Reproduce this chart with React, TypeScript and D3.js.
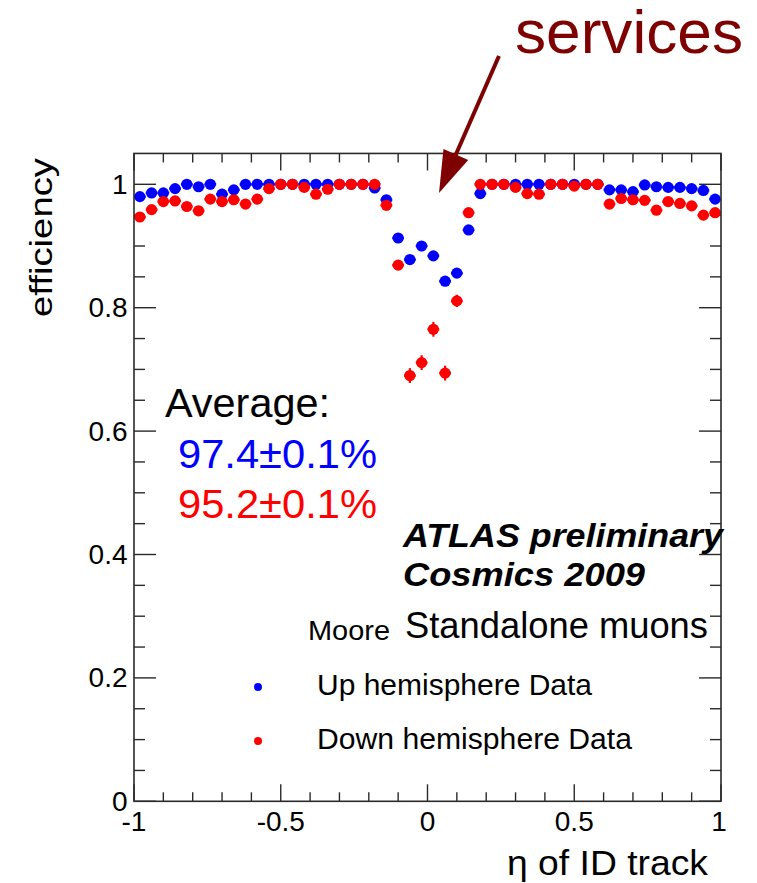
import React from "react";
import * as d3 from "d3";

const etaBins = [
  -0.98, -0.94, -0.9, -0.86, -0.82, -0.78, -0.74, -0.7, -0.66, -0.62,
  -0.58, -0.54, -0.5, -0.46, -0.42, -0.38, -0.34, -0.3, -0.26, -0.22,
  -0.18, -0.14, -0.1, -0.06, -0.02, 0.02, 0.06, 0.1, 0.14, 0.18,
  0.22, 0.26, 0.3, 0.34, 0.38, 0.42, 0.46, 0.5, 0.54, 0.58,
  0.62, 0.66, 0.7, 0.74, 0.78, 0.82, 0.86, 0.9, 0.94, 0.98,
];

const upEff = [
  0.98, 0.986, 0.986, 0.993, 1.0, 0.996, 1.0, 0.984, 0.991, 1.0,
  1.0, 1.0, 1.0, 1.0, 1.0, 1.0, 1.0, 1.0, 1.0, 1.0,
  0.994, 0.975, 0.913, 0.878, 0.9, 0.884, 0.843, 0.856, 0.926, 0.985,
  1.0, 1.0, 1.0, 1.0, 1.0, 1.0, 1.0, 1.0, 1.0, 1.0,
  0.991, 0.991, 0.988, 0.999, 0.996, 0.995, 0.995, 0.993, 0.99, 0.976,
];

const downEff = [
  0.947, 0.959, 0.972, 0.973, 0.964, 0.957, 0.976, 0.972, 0.975, 0.968,
  0.976, 0.993, 1.0, 1.0, 0.995, 0.984, 0.992, 1.0, 1.0, 1.0,
  1.0, 0.966, 0.869, 0.69, 0.711, 0.765, 0.694, 0.811, 0.954, 1.0,
  1.0, 1.0, 0.995, 0.985, 0.984, 1.0, 1.0, 0.997, 1.0, 1.0,
  0.968, 0.977, 0.975, 0.974, 0.958, 0.972, 0.969, 0.965, 0.95, 0.954,
];

const downErr = [
  0.006, 0.006, 0.005, 0.005, 0.006, 0.006, 0.005, 0.005, 0.005, 0.006,
  0.005, 0.003, 0.002, 0.002, 0.003, 0.004, 0.003, 0.002, 0.002, 0.002,
  0.002, 0.006, 0.008, 0.012, 0.012, 0.012, 0.012, 0.01, 0.006, 0.002,
  0.002, 0.002, 0.003, 0.004, 0.004, 0.002, 0.002, 0.002, 0.002, 0.002,
  0.006, 0.005, 0.005, 0.005, 0.006, 0.005, 0.005, 0.006, 0.006, 0.006,
];

const binHalfWidth = 0.02;
const xMajorTicks = [-1, -0.5, 0, 0.5, 1];
const xTickLabels = ["-1", "-0.5", "0", "0.5", "1"];
const xMinorTicks = [-0.9, -0.8, -0.7, -0.6, -0.4, -0.3, -0.2, -0.1, 0.1, 0.2, 0.3, 0.4, 0.6, 0.7, 0.8, 0.9];
const yMajorTicks = [0, 0.2, 0.4, 0.6, 0.8, 1];
const yTickLabels = ["0", "0.2", "0.4", "0.6", "0.8", "1"];
const yMinorTicks = [0.05, 0.1, 0.15, 0.25, 0.3, 0.35, 0.45, 0.5, 0.55, 0.65, 0.7, 0.75, 0.85, 0.9, 0.95];

const FONT = "'Liberation Sans', Arial, Helvetica, sans-serif";
const BLUE = "#0000ff";
const RED = "#ff0000";
const DARKRED = "#7f0000";

export default function App() {
  const W = 757;
  const H = 883;
  const x = d3.scaleLinear().domain([-1, 1]).range([134, 721]);
  const y = d3.scaleLinear().domain([0, 1.05]).range([801.3, 153.45]);
  const [x0, x1] = x.range();
  const [y0, y1] = y.range();
  const frame = "#2a2a2a";

  // arrow geometry
  const aStart: [number, number] = [499, 56];
  const aTip: [number, number] = [439, 193];
  const dx = aTip[0] - aStart[0];
  const dy = aTip[1] - aStart[1];
  const len = Math.hypot(dx, dy);
  const ux = dx / len, uy = dy / len;
  const headLen = 42, headHalf = 13.5;
  const bx = aTip[0] - ux * headLen, by = aTip[1] - uy * headLen;
  const px = -uy, py = ux;
  const headPts = [
    [aTip[0], aTip[1]],
    [bx + px * headHalf, by + py * headHalf],
    [bx - px * headHalf, by - py * headHalf],
  ].map((p) => p.join(",")).join(" ");

  const fit = { lengthAdjust: "spacingAndGlyphs" as const };

  return (
    <svg width={W} height={H} style={{ position: "absolute", left: 0, top: 0, background: "#fff" }} fontFamily={FONT}>
      <rect x={0} y={0} width={W} height={H} fill="#fff" />

      {/* ticks */}
      <g stroke={frame} strokeWidth={1.4}>
        {xMajorTicks.map((t) => (
          <g key={"xm" + t}>
            <line x1={x(t)} x2={x(t)} y1={y0} y2={y0 - 17} />
            <line x1={x(t)} x2={x(t)} y1={y1} y2={y1 + 17} />
          </g>
        ))}
        {xMinorTicks.map((t) => (
          <g key={"xn" + t}>
            <line x1={x(t)} x2={x(t)} y1={y0} y2={y0 - 9} />
            <line x1={x(t)} x2={x(t)} y1={y1} y2={y1 + 9} />
          </g>
        ))}
        {yMajorTicks.map((t) => (
          <g key={"ym" + t}>
            <line x1={x0} x2={x0 + 22} y1={y(t)} y2={y(t)} />
            <line x1={x1} x2={x1 - 22} y1={y(t)} y2={y(t)} />
          </g>
        ))}
        {yMinorTicks.map((t) => (
          <g key={"yn" + t}>
            <line x1={x0} x2={x0 + 11} y1={y(t)} y2={y(t)} />
            <line x1={x1} x2={x1 - 11} y1={y(t)} y2={y(t)} />
          </g>
        ))}
      </g>

      {/* data: up hemisphere */}
      <g>
        {etaBins.map((e, i) => (
          <g key={"u" + i}>
            <line x1={x(e - binHalfWidth)} x2={x(e + binHalfWidth)} y1={y(upEff[i])} y2={y(upEff[i])} stroke={BLUE} strokeWidth={2.5} />
            <circle cx={x(e)} cy={y(upEff[i])} r={5.6} fill={BLUE} />
          </g>
        ))}
      </g>
      {/* data: down hemisphere */}
      <g>
        {etaBins.map((e, i) => (
          <g key={"d" + i}>
            <line x1={x(e - binHalfWidth)} x2={x(e + binHalfWidth)} y1={y(downEff[i])} y2={y(downEff[i])} stroke={RED} strokeWidth={2.5} />
            <line x1={x(e)} x2={x(e)} y1={y(Math.min(1, downEff[i] + downErr[i]))} y2={y(downEff[i] - downErr[i])} stroke={RED} strokeWidth={2.2} />
            <circle cx={x(e)} cy={y(downEff[i])} r={5.6} fill={RED} />
          </g>
        ))}
      </g>

      {/* frame */}
      <rect x={x0} y={y1} width={x1 - x0} height={y0 - y1} fill="none" stroke={frame} strokeWidth={1.6} />

      {/* tick labels */}
      <g fontSize={28} fill="#000">
        {yMajorTicks.map((t, i) => (
          <text key={"yl" + t} x={127.5} y={y(t) + (t === 0 ? 10 : 9.5)} textAnchor="end">{yTickLabels[i]}</text>
        ))}
        {xMajorTicks.map((t, i) => (
          <text key={"xl" + t} x={x(t) + (t === 1 ? -2 : 0)} y={831} textAnchor="middle">{xTickLabels[i]}</text>
        ))}
      </g>

      {/* axis titles */}
      <text x={507} y={875} fontSize={35} textLength={201} {...fit} fill="#000">η of ID track</text>
      <text transform="translate(52,158) rotate(-90)" x={-159} y={0} fontSize={31} textLength={159} {...fit} fill="#000">efficiency</text>

      {/* average */}
      <text x={165} y={417} fontSize={40} textLength={165} {...fit} fill="#000">Average:</text>
      <text x={178} y={468} fontSize={40} textLength={199} {...fit} fill={BLUE}>97.4±0.1%</text>
      <text x={178} y={518} fontSize={40} textLength={199} {...fit} fill={RED}>95.2±0.1%</text>

      {/* ATLAS labels */}
      <text x={403} y={547} fontSize={33} fontWeight="bold" fontStyle="italic" textLength={320} {...fit} fill="#000">ATLAS preliminary</text>
      <text x={403} y={586} fontSize={33} fontWeight="bold" fontStyle="italic" textLength={242} {...fit} fill="#000">Cosmics 2009</text>
      <text x={308} y={640} fontSize={27} textLength={82} {...fit} fill="#000">Moore</text>
      <text x={405} y={638} fontSize={36} textLength={303} {...fit} fill="#000">Standalone muons</text>

      {/* legend */}
      <circle cx={258} cy={687} r={4} fill={BLUE} />
      <text x={317} y={695} fontSize={29} textLength={275} {...fit} fill="#000">Up hemisphere Data</text>
      <circle cx={258} cy={741} r={4} fill={RED} />
      <text x={317} y={749} fontSize={29} textLength={315} {...fit} fill="#000">Down hemisphere Data</text>

      {/* services annotation */}
      <text x={515} y={53} fontSize={62} textLength={228} {...fit} fill={DARKRED}>services</text>
      <line x1={aStart[0]} y1={aStart[1]} x2={bx + ux * 4} y2={by + uy * 4} stroke={DARKRED} strokeWidth={4} />
      <polygon points={headPts} fill={DARKRED} />
    </svg>
  );
}
